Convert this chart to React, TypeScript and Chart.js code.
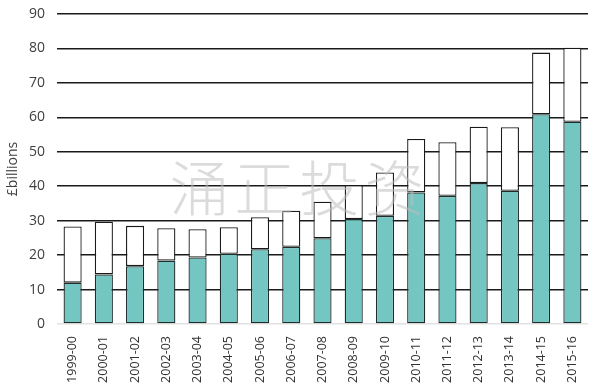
import React, { useEffect, useRef } from "react";
import { Chart, registerables } from "chart.js";

Chart.register(...registerables);

const categories = [
  "1999-00", "2000-01", "2001-02", "2002-03", "2003-04", "2004-05", "2005-06", "2006-07",
  "2007-08", "2008-09", "2009-10", "2010-11", "2011-12", "2012-13", "2013-14", "2014-15", "2015-16",
];
const tealValues = [12.0, 14.4, 16.8, 18.4, 19.3, 20.4, 21.7, 22.4, 24.9, 30.5, 31.4, 38.2, 37.2, 40.9, 38.7, 60.9, 58.7];
const totalValues = [28.3, 29.7, 28.5, 27.8, 27.5, 28.1, 31.0, 32.9, 35.5, 40.3, 44.0, 53.7, 52.8, 57.3, 57.1, 78.8, 80.2];
const whiteValues = totalValues.map((t, i) => +(t - tealValues[i]).toFixed(2));
const yTitle = "£billions";
const watermark = "涌正投资";

const overlayPlugin = {
  id: "overlay",
  afterDraw(chart: any) {
    const ctx = chart.ctx;
    const area = chart.chartArea;
    ctx.save();
    ctx.translate(13, (area.top + area.bottom) / 2);
    ctx.rotate(-Math.PI / 2);
    ctx.fillStyle = "#404040";
    ctx.font = "14px 'Open Sans'";
    ctx.textAlign = "center";
    ctx.textBaseline = "middle";
    ctx.fillText(yTitle, 0, 0);
    ctx.restore();
    ctx.save();
    ctx.fillStyle = "rgba(190,190,190,0.55)";
    ctx.font = "300 60px 'Noto Sans CJK SC'";
    ctx.textAlign = "center";
    ctx.textBaseline = "middle";
    const chars = Array.from(watermark);
    const step = 65;
    const cx = 297;
    const cy = 188;
    chars.forEach((c, i) => {
      ctx.fillText(c, cx + (i - (chars.length - 1) / 2) * step, cy);
    });
    ctx.restore();
  },
};

export default function App() {
  const ref = useRef<HTMLCanvasElement>(null);
  useEffect(() => {
    document.body.style.margin = "0";
    const chart = new Chart(ref.current!, {
      type: "bar",
      data: {
        labels: categories,
        datasets: [
          {
            data: tealValues,
            backgroundColor: "#74c6c2",
            borderColor: "#1f2d2c",
            borderWidth: 1.3,
            borderSkipped: false,
            barPercentage: 0.58,
            categoryPercentage: 1,
          },
          {
            data: whiteValues,
            backgroundColor: "#ffffff",
            borderColor: "#1a1a1a",
            borderWidth: 1.3,
            borderSkipped: false,
            barPercentage: 0.58,
            categoryPercentage: 1,
          },
        ],
      },
      options: {
        responsive: false,
        animation: false,
        layout: { padding: { top: 14, right: 12, left: 0, bottom: 0 } },
        plugins: { legend: { display: false }, tooltip: { enabled: false } },
        scales: {
          x: {
            stacked: true,
            grid: { display: false },
            border: { display: false },
            ticks: {
              minRotation: 90,
              maxRotation: 90,
              color: "#333",
              font: { family: "'Open Sans'", size: 12.5 },
              padding: 4,
            },
            afterFit(scale: any) {
              scale.height = 61;
              scale.paddingLeft = 0;
              scale.paddingRight = 0;
            },
          },
          y: {
            stacked: true,
            min: 0,
            max: 90,
            ticks: {
              stepSize: 10,
              color: "#404040",
              font: { family: "'Open Sans'", size: 14 },
              padding: 12,
            },
            grid: {
              color: (c: any) => (c.tick && c.tick.value === 0 ? "#e2e2e2" : "#1a1a1a"),
              lineWidth: 1.5,
              drawTicks: false,
            },
            border: { display: false },
            afterFit(scale: any) {
              scale.width = 57;
              scale.paddingTop = 0;
              scale.paddingBottom = 0;
            },
          },
        },
      },
      plugins: [overlayPlugin],
    });
    return () => chart.destroy();
  }, []);
  return <canvas ref={ref} width={600} height={385} style={{ display: "block" }} />;
}
